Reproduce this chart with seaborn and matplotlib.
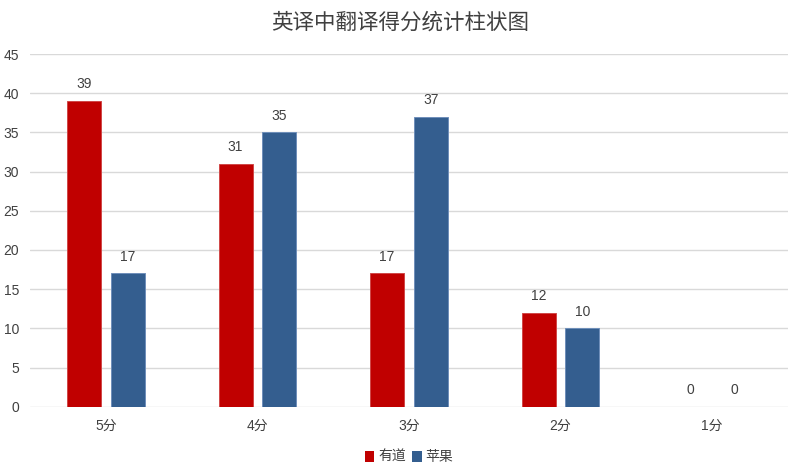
import matplotlib
matplotlib.use("Agg")
import matplotlib.pyplot as plt
import seaborn as sns
import pandas as pd

categories = ["5分", "4分", "3分", "2分", "1分"]
series_names = ["有道", "苹果"]
youdao = [39, 31, 17, 12, 0]
apple = [17, 35, 37, 10, 0]
yticks = [0, 5, 10, 15, 20, 25, 30, 35, 40, 45]
title = "英译中翻译得分统计柱状图"

df = pd.DataFrame({
    "cat": categories * 2,
    "series": [series_names[0]] * len(categories) + [series_names[1]] * len(categories),
    "value": youdao + apple,
})

sns.set_theme(style="white")
plt.rcParams["font.family"] = ["Liberation Sans", "Noto Sans CJK SC", "DejaVu Sans"]

fig = plt.figure(figsize=(8, 4.75), dpi=100)
ax = fig.add_axes([0.0375, 0.1438, 0.9475, 0.7425])

colors = {"有道": "#C00000", "苹果": "#345E8F"}
sns.barplot(data=df, x="cat", y="value", hue="series", order=categories,
            hue_order=series_names, palette=colors, width=0.576, gap=0.22,
            saturation=1, ax=ax, zorder=3, linewidth=0.8, edgecolor="none")

for cont, ec in zip(ax.containers, ["#D04848", "#6F8FBA"]):
    for p in cont:
        p.set_edgecolor(ec)
        p.set_linewidth(0.7)
    ax.bar_label(cont, padding=7, fontsize=10, color="#404040")

ax.set_ylim(0, 45)
ax.set_xlim(-0.5, len(categories) - 0.5)
ax.set_yticks(yticks)
ax.yaxis.grid(True, color="#D9D9D9", linewidth=1, zorder=0)
ax.set_axisbelow(True)
for s in ax.spines.values():
    s.set_visible(False)
ax.tick_params(axis="both", length=0, labelsize=10, labelcolor="#404040")
ax.tick_params(axis="y", pad=8)
ax.tick_params(axis="x", pad=9)
for lab in ax.get_xticklabels():
    lab.set_family(["Liberation Sans", "Noto Sans CJK SC"])
ax.set_xlabel("")
ax.set_ylabel("")

fig.text(0.5, 0.953, title, ha="center", va="center", fontsize=15.5,
         color="#404040", family=["Noto Sans CJK SC", "DejaVu Sans"])

leg = ax.legend(loc="center", bbox_to_anchor=(0.5, -0.143), ncol=2, frameon=False,
                handlelength=0.7, handleheight=0.9, handletextpad=0.3,
                columnspacing=0.4, fontsize=10)
for t in leg.get_texts():
    t.set_color("#404040")
    t.set_family(["Noto Sans CJK SC", "DejaVu Sans"])

fig.savefig("out.png", dpi=100)
